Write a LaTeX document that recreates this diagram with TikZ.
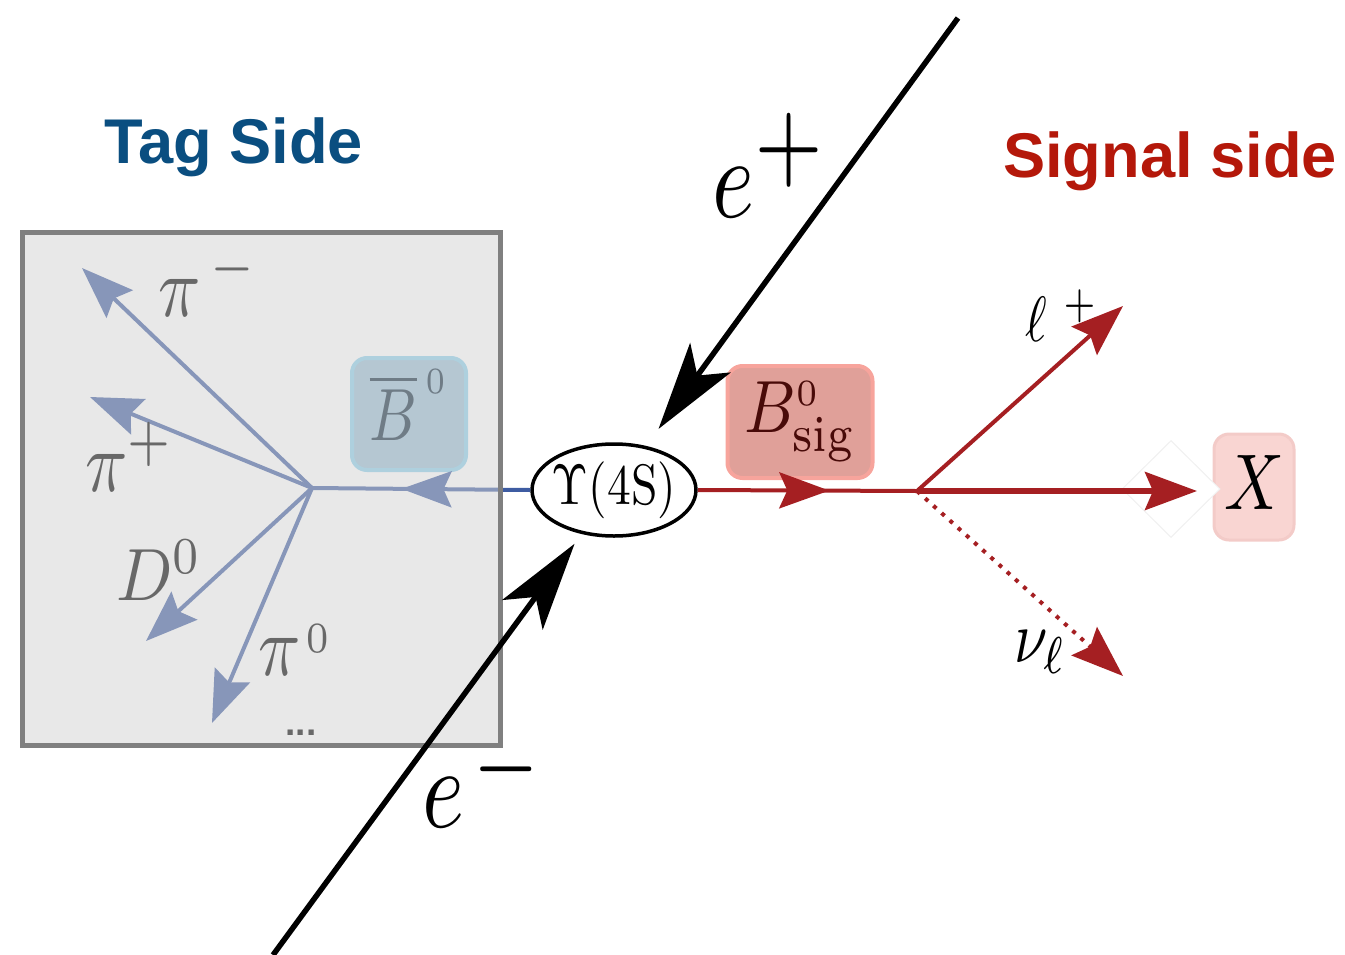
\documentclass[tikz,border=0pt]{standalone}
\usepackage{fontspec}
\newfontfamily\hv{Liberation Sans}
\usetikzlibrary{arrows.meta,shapes.geometric,decorations.markings}
\definecolor{tagblue}{RGB}{10,78,128}
\definecolor{sigred}{RGB}{180,24,10}
\definecolor{tagline}{RGB}{62,92,162}
\definecolor{redline}{RGB}{165,31,34}
\definecolor{boxgray}{RGB}{209,209,209}
\definecolor{bordgray}{RGB}{128,128,128}
\definecolor{bbarfill}{RGB}{153,189,213}
\definecolor{bbardraw}{RGB}{139,207,237}
\definecolor{bbartext}{RGB}{13,39,59}
\definecolor{sigfill}{RGB}{224,160,153}
\definecolor{sigdraw}{RGB}{247,164,156}
\definecolor{sigtext}{RGB}{72,10,8}
\definecolor{xfill}{RGB}{249,213,210}
\definecolor{xdraw}{RGB}{243,203,200}
\begin{document}
\begin{tikzpicture}[x=1pt,y=-1pt,
  lbl/.style={inner sep=0pt, anchor=base west},
  title/.style={inner sep=0pt, anchor=base west, font=\hv\bfseries\fontsize{63.2}{70}\selectfont},
  tagarrow/.style={color=tagline, line width=4pt, -{Stealth[length=52pt,width=38pt,inset=8pt]}},
  sigarrow/.style={color=redline, line width=4.5pt, -{Stealth[length=52pt,width=38pt,inset=8pt]}},
  beam/.style={draw=black, line width=5.5pt, -{Stealth[length=88pt,width=50pt,inset=22pt]}},
  midarrow/.style={postaction=decorate, decoration={markings, mark=at position #1 with {\arrow{Stealth[length=50pt,width=36pt,inset=8pt]}}}},
  partbox/.style={rectangle, rounded corners=15pt, inner sep=0pt},
]
\useasboundingbox (0,0) rectangle (1345,954);

% titles
\node[title, text=tagblue] (tagtitle) at (104,163) {Tag Side};
\node[title, text=sigred] (sigtitle) at (1003,177) {Signal side};

% central resonance
\node[ellipse, draw, line width=3.5pt, fill=white, minimum width=164pt, minimum height=92pt, inner sep=0pt] (ups) at (614,490) {\makebox[90pt]{\scalebox{4.75}[5.7]{$\Upsilon(4\mathrm{S})$}}};

% tag side content (drawn below the translucent box)
\coordinate (tagv) at (312,488);
\coordinate (tpim) at (82,268);
\coordinate (tpip) at (90,397);
\coordinate (tdz) at (146,641);
\coordinate (tpiz) at (212,723);
\node[partbox, draw=bbardraw, fill=bbarfill, line width=4pt, text=bbartext, minimum width=114pt, minimum height=112pt] (bbar) at (409,414) {\raisebox{9pt}[\height][\depth]{\scalebox{5.9}[7.4]{$\overline{B}^{\,\scriptscriptstyle 0}$}}};
\draw[color=tagline, line width=4pt, midarrow=0.59] (ups.west) -- (tagv);
\draw[tagarrow] (tagv) -- (tpim);
\draw[tagarrow] (tagv) -- (tpip);
\draw[tagarrow] (tagv) -- (tdz);
\draw[tagarrow] (tagv) -- (tpiz);
\node[lbl] (lpim) at (158,316) {\scalebox{7}[8.6]{$\pi^{\,-}$}};
\node[lbl] (lpip) at (85,491) {\scalebox{7}[8.6]{$\pi^{+}$}};
\node[lbl] (ldz) at (116,600) {\scalebox{6.6}[7.4]{$D^{0}$}};
\node[lbl] (lpiz) at (258,675) {\scalebox{7}[8.6]{$\pi^{\mkern1.5mu\raisebox{-1pt}{$\scriptscriptstyle 0$}}$}};
\node[inner sep=0pt, font=\hv\bfseries\fontsize{37}{40}\selectfont] (dots) at (301,733) {...};

% translucent tag box
\node[draw=bordgray, line width=5pt, fill=boxgray, fill opacity=0.5, minimum width=478pt, minimum height=513pt, inner sep=0pt] (tagbox) at (261,488.5) {};

% signal side
\coordinate (sigv) at (917,491);
\coordinate (tlep) at (1123,306);
\coordinate (tnu) at (1123,676);
\coordinate (tx) at (1197,491);
\node[partbox, draw=xdraw, fill=xfill, line width=3pt, minimum width=80pt, minimum height=106pt] (xbox) at (1254,487) {\raisebox{5pt}[\height][\depth]{\scalebox{6.6}[7.9]{$X$}}};
\node[diamond, draw=black!6, fill=white, line width=1pt, minimum width=98pt, minimum height=97pt, inner sep=0pt] (xdiam) at (1171,489) {};
\node[partbox, draw=sigdraw, fill=sigfill, line width=4pt, text=sigtext, minimum width=145pt, minimum height=112pt] (bsig) at (800,422) {\scalebox{6.4}[7.4]{$B^{\scriptscriptstyle 0}_{\mathrm{sig}}$}};
\draw[color=redline, line width=4pt, midarrow=0.6] (ups.east) -- (sigv);
\draw[sigarrow, line width=4pt] (sigv) -- (tlep);
\draw[sigarrow, line width=5.5pt] (sigv) -- (tx);
\draw[sigarrow, line width=4pt, dash pattern=on 4pt off 7pt] (sigv) -- (tnu);
\node[lbl] (llep) at (1025,341) {\scalebox{5.2}[6.4]{$\ell^{\hspace{3.2pt}+}$}};
\node[lbl] (lnu) at (1014,662) {\scalebox{6}[7.4]{$\nu_{\ell}$}};

% beams
\coordinate (epstart) at (958,18);
\coordinate (emstart) at (273,955);
\draw[beam, shorten >=21pt] (epstart) -- (ups);
\draw[beam, shorten >=12pt] (emstart) -- (ups);
\node[lbl] (lep) at (712,217) {\scalebox{9}[11.5]{$e^{\scalebox{1.25}{$\scriptstyle +$}}$}};
\node[lbl] (lem) at (422,827) {\scalebox{9}[11.5]{$e^{\mkern2mu\raisebox{-0.7pt}{\scalebox{1.2}{$\scriptstyle -$}}}$}};
\end{tikzpicture}
\end{document}
